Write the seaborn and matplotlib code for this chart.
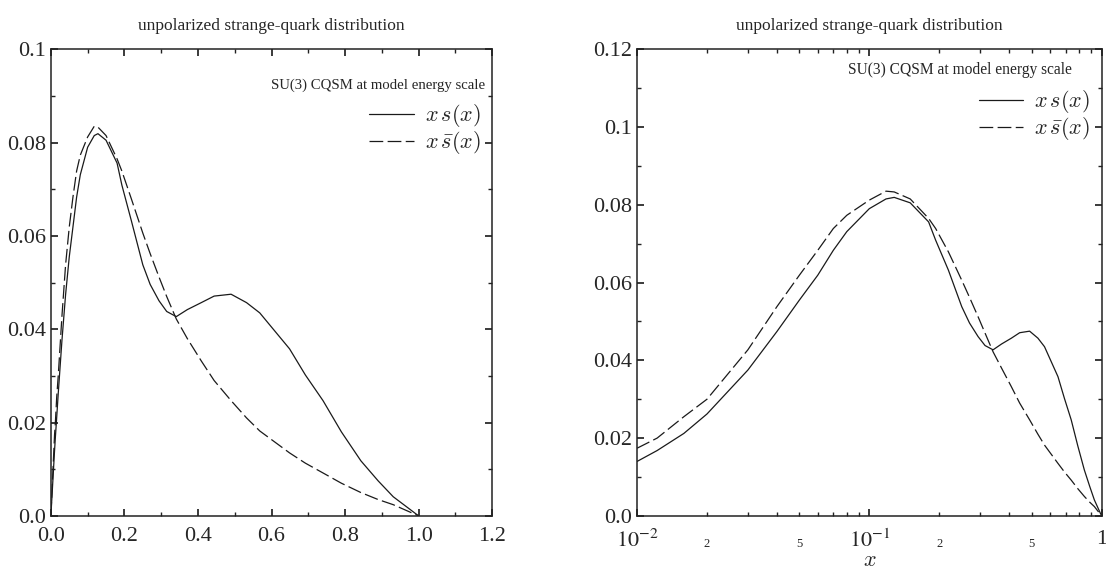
import pandas as pd
import seaborn as sns
import matplotlib.pyplot as plt
from matplotlib.ticker import MultipleLocator, FixedLocator, FixedFormatter

# values (same curves in both panels)
x_vals = [0.0, 0.01, 0.0122, 0.0159, 0.02, 0.03, 0.04, 0.05, 0.06, 0.07, 0.08,
          0.10, 0.118, 0.128, 0.15, 0.18, 0.193, 0.219, 0.25, 0.27, 0.294,
          0.315, 0.341, 0.371, 0.409, 0.444, 0.49, 0.532, 0.568, 0.649, 0.692,
          0.74, 0.79, 0.843, 0.89, 0.931, 1.0]
xs_vals = [0.0, 0.0140, 0.0168, 0.0212, 0.0262, 0.0375, 0.0474, 0.0555, 0.0619,
           0.0683, 0.0731, 0.0790, 0.0815, 0.0819, 0.0805, 0.0756, 0.0709,
           0.0632, 0.0538, 0.0496, 0.0461, 0.0438, 0.0427, 0.0442, 0.0457,
           0.0471, 0.0475, 0.0457, 0.0435, 0.0358, 0.0302, 0.0247, 0.0180,
           0.0118, 0.0075, 0.0041, 0.0]
xsbar_vals = [0.0, 0.0174, 0.0200, 0.0255, 0.0300, 0.0427, 0.0538, 0.0619,
              0.0683, 0.0739, 0.0773, 0.0812, 0.0835, 0.0833, 0.0815, 0.0765,
              0.0739, 0.0679, 0.0606, 0.0562, 0.0512, 0.0470, 0.0422, 0.0380,
              0.0332, 0.0290, 0.0247, 0.0210, 0.0182, 0.0135, 0.0113, 0.0092,
              0.0070, 0.0050, 0.0035, 0.0024, 0.0]

title_text = "unpolarized strange-quark distribution"
model_text = "SU(3) CQSM at model energy scale"
series_names = ["xs", "xsbar"]
legend_labels = [r"$x\,s(x)$", r"$x\,\bar{s}(x)$"]

lin_xticks = [0.0, 0.2, 0.4, 0.6, 0.8, 1.0, 1.2]
lin_xlabels = ["0.0", "0.2", "0.4", "0.6", "0.8", "1.0", "1.2"]
left_yticks = [0.0, 0.02, 0.04, 0.06, 0.08, 0.1]
left_ylabels = ["0.0", "0.02", "0.04", "0.06", "0.08", "0.1"]
right_yticks = [0.0, 0.02, 0.04, 0.06, 0.08, 0.1, 0.12]
right_ylabels = ["0.0", "0.02", "0.04", "0.06", "0.08", "0.1", "0.12"]

log_major = [0.01, 0.1, 1.0]
log_major_labels = [r"$10^{-2}$", r"$10^{-1}$", "1"]
log_minor = [0.02, 0.03, 0.04, 0.05, 0.06, 0.07, 0.08, 0.09,
             0.2, 0.3, 0.4, 0.5, 0.6, 0.7, 0.8, 0.9]
log_minor_labels = ["2", "", "", "5", "", "", "", "",
                    "2", "", "", "5", "", "", "", ""]

sns.set_theme(style="ticks")
plt.rcParams["font.family"] = ["Liberation Serif", "DejaVu Serif"]
plt.rcParams["mathtext.fontset"] = "stix"
plt.rcParams["axes.linewidth"] = 1.1
plt.rcParams["axes.edgecolor"] = "#222222"

df = pd.DataFrame({"x": x_vals, "xs": xs_vals, "xsbar": xsbar_vals})
long = df.melt(id_vars="x", value_vars=series_names,
               var_name="series", value_name="value")
dash_map = {"xs": "", "xsbar": (11, 3.5)}

fig = plt.figure(figsize=(11.06, 5.79), dpi=100)
ax1 = fig.add_axes([0.046, 0.109, 0.399, 0.806])
ax2 = fig.add_axes([0.576, 0.109, 0.420, 0.806])


def draw(ax, data, yticks, ylabels):
    sns.lineplot(data=data, x="x", y="value", style="series",
                 style_order=series_names, dashes=dash_map, color="#1a1a1a",
                 linewidth=0.9, estimator=None, sort=False, legend=False, ax=ax)
    ax.set_xlabel("")
    ax.set_ylabel("")
    ax.yaxis.set_major_locator(FixedLocator(yticks))
    ax.yaxis.set_major_formatter(FixedFormatter(ylabels))
    ax.yaxis.set_minor_locator(MultipleLocator(0.01))
    ax.tick_params(which="both", direction="in", top=True, right=True,
                   labelsize=16, color="#222222")
    ax.tick_params(which="major", length=5)
    ax.tick_params(which="minor", length=3)
    ax.tick_params(axis="x", which="both", pad=8)
    ax.set_title(title_text, fontsize=12.5, pad=14)
    leg = ax.legend(ax.lines[:2], legend_labels, frameon=False, fontsize=16,
                    handlelength=2.0, handletextpad=0.5, labelspacing=0.0,
                    borderaxespad=0, loc="upper right")
    for t in leg.get_texts():
        t.set_math_fontfamily("cm")
    for h in leg.get_lines():
        h.set_linewidth(0.9)
    return leg


# left panel: linear x
leg1 = draw(ax1, long, left_yticks, left_ylabels)
ax1.set_xlim(0, 1.2)
ax1.set_ylim(0, 0.1)
ax1.xaxis.set_major_locator(FixedLocator(lin_xticks))
ax1.xaxis.set_major_formatter(FixedFormatter(lin_xlabels))
ax1.xaxis.set_minor_locator(MultipleLocator(0.1))
ax1.text(0.983, 0.923, model_text, transform=ax1.transAxes, ha="right",
         va="center", fontsize=10.6)
leg1.set_bbox_to_anchor((0.995, 0.905), transform=ax1.transAxes)

# right panel: log x
leg2 = draw(ax2, long[long["x"] > 0], right_yticks, right_ylabels)
ax2.set_xscale("log")
ax2.set_xlim(0.01, 1.0)
ax2.set_ylim(0, 0.12)
ax2.xaxis.set_major_locator(FixedLocator(log_major))
ax2.xaxis.set_major_formatter(FixedFormatter(log_major_labels))
ax2.xaxis.set_minor_locator(FixedLocator(log_minor))
ax2.xaxis.set_minor_formatter(FixedFormatter(log_minor_labels))
ax2.tick_params(axis="x", which="minor", labelsize=9, pad=16)
ax2.tick_params(axis="x", which="major", labelsize=16, pad=10)
ax2.set_xlabel(r"$x$", fontsize=16, math_fontfamily="cm", labelpad=0)
ax2.text(0.935, 0.955, model_text, transform=ax2.transAxes, ha="right",
         va="center", fontsize=11.2)
leg2.set_bbox_to_anchor((0.995, 0.935), transform=ax2.transAxes)

fig.savefig("out.png", dpi=100)
